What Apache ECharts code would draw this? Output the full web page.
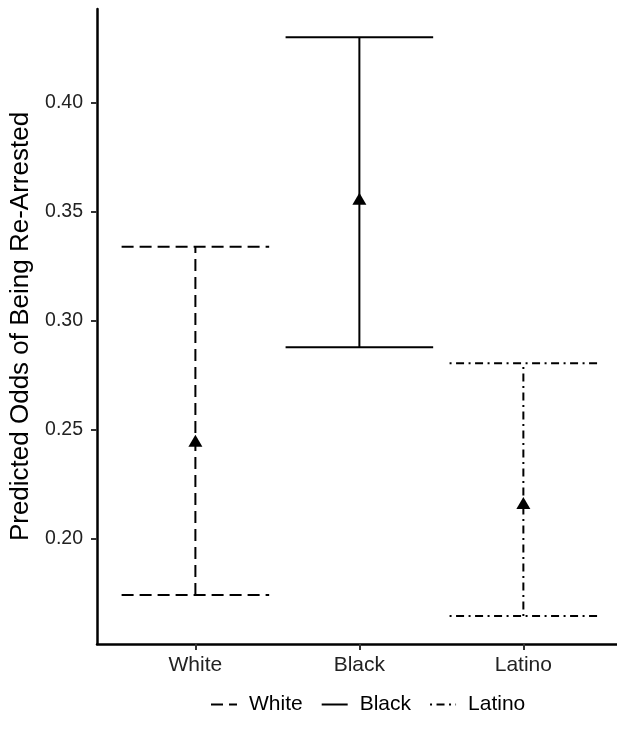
<!DOCTYPE html>
<html>
<head>
<meta charset="utf-8">
<script src="https://cdn.jsdelivr.net/npm/echarts@6/dist/echarts.min.js"></script>
<style>
  html, body { margin: 0; padding: 0; background: #fff; }
  #chart { width: 617px; height: 743px; }
</style>
</head>
<body>
<div id="chart"></div>
<script>
// data
var groups = ['White', 'Black', 'Latino'];
var groupPos = [1, 2, 3];
var estimate = [0.245, 0.356, 0.2165];
var lower = [0.1743, 0.2879, 0.1647];
var upper = [0.334, 0.4301, 0.2806];
var yTicks = [0.20, 0.25, 0.30, 0.35, 0.40];

var dashTypes = [[12, 6], 'solid', [2, 4.5, 8, 4.5]];
var capHalf = 0.45;
var font = 'Liberation Sans, Arial, sans-serif';

var chart = echarts.init(document.getElementById('chart'));

function errorBar(i) {
    return {
        type: 'custom',
        name: groups[i] + ' bar',
        data: [[groupPos[i], lower[i], upper[i]]],
        renderItem: function (params, api) {
            var x = api.value(0);
            var lo = api.value(1);
            var hi = api.value(2);
            var style = {
                stroke: '#000',
                lineWidth: 2,
                lineDash: dashTypes[i] === 'solid' ? null : dashTypes[i],
                fill: null
            };
            var a = api.coord([x, lo]);
            var b = api.coord([x, hi]);
            var l1 = api.coord([x - capHalf, lo]);
            var r1 = api.coord([x + capHalf, lo]);
            var l2 = api.coord([x - capHalf, hi]);
            var r2 = api.coord([x + capHalf, hi]);
            return {
                type: 'group',
                children: [
                    { type: 'line', shape: { x1: a[0], y1: a[1], x2: b[0], y2: b[1] }, style: style },
                    { type: 'line', shape: { x1: l1[0], y1: l1[1], x2: r1[0], y2: r1[1] }, style: style },
                    { type: 'line', shape: { x1: l2[0], y1: l2[1], x2: r2[0], y2: r2[1] }, style: style }
                ]
            };
        },
        z: 2
    };
}

var series = [];
// empty line series only for the legend icons
for (var i = 0; i < groups.length; i++) {
    series.push({
        name: groups[i],
        type: 'line',
        data: [],
        symbol: 'none',
        itemStyle: { color: '#000' },
        lineStyle: { color: '#000', width: 2, type: dashTypes[i] }
    });
}
for (var j = 0; j < groups.length; j++) {
    series.push(errorBar(j));
}
series.push({
    name: 'estimate',
    type: 'scatter',
    symbol: 'triangle',
    symbolSize: [14, 12],
    itemStyle: { color: '#000', opacity: 1 },
    data: groupPos.map(function (x, k) { return [x, estimate[k]]; }),
    z: 3
});

var option = {
    backgroundColor: '#fff',
    animation: false,
    grid: { left: 97, right: 0, top: 9, bottom: 99 },
    legend: {
        data: groups,
        bottom: 23,
        left: 205,
        itemWidth: 26,
        itemHeight: 14,
        itemGap: 18,
        itemStyle: { opacity: 0 },
        textStyle: { fontFamily: font, fontSize: 21, color: '#000', padding: [0, 0, 0, 7] }
    },
    xAxis: {
        type: 'value',
        min: 0.4,
        max: 3.571,
        splitLine: { show: false },
        axisLine: { lineStyle: { color: '#000', width: 2.5 } },
        axisTick: { customValues: groupPos, length: 6, lineStyle: { color: '#333', width: 2 } },
        axisLabel: {
            customValues: groupPos,
            margin: 11,
            fontFamily: font,
            fontSize: 21,
            color: '#222',
            formatter: function (v) { return groups[Math.round(v) - 1] || ''; }
        }
    },
    yAxis: {
        type: 'value',
        min: 0.1518,
        max: 0.4431,
        name: 'Predicted Odds of Being Re-Arrested',
        nameLocation: 'middle',
        nameGap: 60,
        nameTextStyle: { fontFamily: font, fontSize: 26, color: '#000' },
        splitLine: { show: false },
        axisLine: { show: true, lineStyle: { color: '#000', width: 2.5 } },
        axisTick: { show: true, customValues: yTicks, length: 6, lineStyle: { color: '#333', width: 2 } },
        axisLabel: {
            customValues: yTicks,
            margin: 14,
            fontFamily: font,
            fontSize: 19.5,
            color: '#222',
            formatter: function (v) { return v.toFixed(2); }
        }
    },
    series: series
};

chart.setOption(option);
</script>
</body>
</html>
